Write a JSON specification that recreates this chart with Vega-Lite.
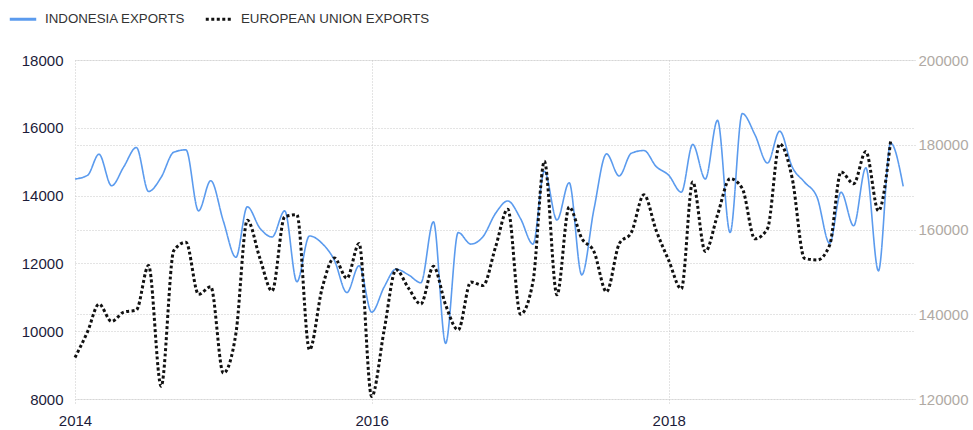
{
  "$schema": "https://vega.github.io/schema/vega-lite/v6.json",
  "autosize": "none",
  "width": 840,
  "height": 339,
  "padding": {"left": 75, "top": 60, "right": 58, "bottom": 31},
  "background": "white",
  "config": {
    "view": {"stroke": null},
    "font": "Liberation Sans",
    "axis": {"domain": false, "gridColor": "#c8c8c8", "gridDash": [1, 2], "gridWidth": 1, "labelFont": "Liberation Sans"}
  },
  "data": {
    "values": [
      {"date": "2014-01-01", "series": "INDONESIA EXPORTS", "value": 14490},
      {"date": "2014-02-01", "series": "INDONESIA EXPORTS", "value": 14600},
      {"date": "2014-03-01", "series": "INDONESIA EXPORTS", "value": 15220},
      {"date": "2014-04-01", "series": "INDONESIA EXPORTS", "value": 14290},
      {"date": "2014-05-01", "series": "INDONESIA EXPORTS", "value": 14850},
      {"date": "2014-06-01", "series": "INDONESIA EXPORTS", "value": 15420},
      {"date": "2014-07-01", "series": "INDONESIA EXPORTS", "value": 14120},
      {"date": "2014-08-01", "series": "INDONESIA EXPORTS", "value": 14540},
      {"date": "2014-09-01", "series": "INDONESIA EXPORTS", "value": 15280},
      {"date": "2014-10-01", "series": "INDONESIA EXPORTS", "value": 15350},
      {"date": "2014-11-01", "series": "INDONESIA EXPORTS", "value": 13550},
      {"date": "2014-12-01", "series": "INDONESIA EXPORTS", "value": 14440},
      {"date": "2015-01-01", "series": "INDONESIA EXPORTS", "value": 13250},
      {"date": "2015-02-01", "series": "INDONESIA EXPORTS", "value": 12180},
      {"date": "2015-03-01", "series": "INDONESIA EXPORTS", "value": 13670},
      {"date": "2015-04-01", "series": "INDONESIA EXPORTS", "value": 13040},
      {"date": "2015-05-01", "series": "INDONESIA EXPORTS", "value": 12780},
      {"date": "2015-06-01", "series": "INDONESIA EXPORTS", "value": 13550},
      {"date": "2015-07-01", "series": "INDONESIA EXPORTS", "value": 11460},
      {"date": "2015-08-01", "series": "INDONESIA EXPORTS", "value": 12810},
      {"date": "2015-09-01", "series": "INDONESIA EXPORTS", "value": 12590},
      {"date": "2015-10-01", "series": "INDONESIA EXPORTS", "value": 12100},
      {"date": "2015-11-01", "series": "INDONESIA EXPORTS", "value": 11140},
      {"date": "2015-12-01", "series": "INDONESIA EXPORTS", "value": 11930},
      {"date": "2016-01-01", "series": "INDONESIA EXPORTS", "value": 10560},
      {"date": "2016-02-01", "series": "INDONESIA EXPORTS", "value": 11310},
      {"date": "2016-03-01", "series": "INDONESIA EXPORTS", "value": 11830},
      {"date": "2016-04-01", "series": "INDONESIA EXPORTS", "value": 11660},
      {"date": "2016-05-01", "series": "INDONESIA EXPORTS", "value": 11430},
      {"date": "2016-06-01", "series": "INDONESIA EXPORTS", "value": 13230},
      {"date": "2016-07-01", "series": "INDONESIA EXPORTS", "value": 9640},
      {"date": "2016-08-01", "series": "INDONESIA EXPORTS", "value": 12910},
      {"date": "2016-09-01", "series": "INDONESIA EXPORTS", "value": 12570},
      {"date": "2016-10-01", "series": "INDONESIA EXPORTS", "value": 12790},
      {"date": "2016-11-01", "series": "INDONESIA EXPORTS", "value": 13480},
      {"date": "2016-12-01", "series": "INDONESIA EXPORTS", "value": 13840},
      {"date": "2017-01-01", "series": "INDONESIA EXPORTS", "value": 13330},
      {"date": "2017-02-01", "series": "INDONESIA EXPORTS", "value": 12570},
      {"date": "2017-03-01", "series": "INDONESIA EXPORTS", "value": 14720},
      {"date": "2017-04-01", "series": "INDONESIA EXPORTS", "value": 13280},
      {"date": "2017-05-01", "series": "INDONESIA EXPORTS", "value": 14380},
      {"date": "2017-06-01", "series": "INDONESIA EXPORTS", "value": 11660},
      {"date": "2017-07-01", "series": "INDONESIA EXPORTS", "value": 13600},
      {"date": "2017-08-01", "series": "INDONESIA EXPORTS", "value": 15230},
      {"date": "2017-09-01", "series": "INDONESIA EXPORTS", "value": 14580},
      {"date": "2017-10-01", "series": "INDONESIA EXPORTS", "value": 15250},
      {"date": "2017-11-01", "series": "INDONESIA EXPORTS", "value": 15330},
      {"date": "2017-12-01", "series": "INDONESIA EXPORTS", "value": 14860},
      {"date": "2018-01-01", "series": "INDONESIA EXPORTS", "value": 14600},
      {"date": "2018-02-01", "series": "INDONESIA EXPORTS", "value": 14100},
      {"date": "2018-03-01", "series": "INDONESIA EXPORTS", "value": 15510},
      {"date": "2018-04-01", "series": "INDONESIA EXPORTS", "value": 14490},
      {"date": "2018-05-01", "series": "INDONESIA EXPORTS", "value": 16220},
      {"date": "2018-06-01", "series": "INDONESIA EXPORTS", "value": 12910},
      {"date": "2018-07-01", "series": "INDONESIA EXPORTS", "value": 16420},
      {"date": "2018-08-01", "series": "INDONESIA EXPORTS", "value": 15800},
      {"date": "2018-09-01", "series": "INDONESIA EXPORTS", "value": 14960},
      {"date": "2018-10-01", "series": "INDONESIA EXPORTS", "value": 15900},
      {"date": "2018-11-01", "series": "INDONESIA EXPORTS", "value": 14840},
      {"date": "2018-12-01", "series": "INDONESIA EXPORTS", "value": 14400},
      {"date": "2019-01-01", "series": "INDONESIA EXPORTS", "value": 13950},
      {"date": "2019-02-01", "series": "INDONESIA EXPORTS", "value": 12590},
      {"date": "2019-03-01", "series": "INDONESIA EXPORTS", "value": 14100},
      {"date": "2019-04-01", "series": "INDONESIA EXPORTS", "value": 13110},
      {"date": "2019-05-01", "series": "INDONESIA EXPORTS", "value": 14820},
      {"date": "2019-06-01", "series": "INDONESIA EXPORTS", "value": 11780},
      {"date": "2019-07-01", "series": "INDONESIA EXPORTS", "value": 15550},
      {"date": "2019-08-01", "series": "INDONESIA EXPORTS", "value": 14270},
      {"date": "2014-01-01", "series": "EUROPEAN UNION EXPORTS", "value": 129800},
      {"date": "2014-02-01", "series": "EUROPEAN UNION EXPORTS", "value": 135900},
      {"date": "2014-03-01", "series": "EUROPEAN UNION EXPORTS", "value": 142400},
      {"date": "2014-04-01", "series": "EUROPEAN UNION EXPORTS", "value": 138300},
      {"date": "2014-05-01", "series": "EUROPEAN UNION EXPORTS", "value": 140500},
      {"date": "2014-06-01", "series": "EUROPEAN UNION EXPORTS", "value": 141000},
      {"date": "2014-07-01", "series": "EUROPEAN UNION EXPORTS", "value": 151500},
      {"date": "2014-08-01", "series": "EUROPEAN UNION EXPORTS", "value": 123000},
      {"date": "2014-09-01", "series": "EUROPEAN UNION EXPORTS", "value": 155000},
      {"date": "2014-10-01", "series": "EUROPEAN UNION EXPORTS", "value": 157000},
      {"date": "2014-11-01", "series": "EUROPEAN UNION EXPORTS", "value": 144700},
      {"date": "2014-12-01", "series": "EUROPEAN UNION EXPORTS", "value": 146500},
      {"date": "2015-01-01", "series": "EUROPEAN UNION EXPORTS", "value": 126100},
      {"date": "2015-02-01", "series": "EUROPEAN UNION EXPORTS", "value": 135500},
      {"date": "2015-03-01", "series": "EUROPEAN UNION EXPORTS", "value": 162200},
      {"date": "2015-04-01", "series": "EUROPEAN UNION EXPORTS", "value": 153200},
      {"date": "2015-05-01", "series": "EUROPEAN UNION EXPORTS", "value": 145500},
      {"date": "2015-06-01", "series": "EUROPEAN UNION EXPORTS", "value": 163000},
      {"date": "2015-07-01", "series": "EUROPEAN UNION EXPORTS", "value": 163500},
      {"date": "2015-08-01", "series": "EUROPEAN UNION EXPORTS", "value": 131600},
      {"date": "2015-09-01", "series": "EUROPEAN UNION EXPORTS", "value": 146100},
      {"date": "2015-10-01", "series": "EUROPEAN UNION EXPORTS", "value": 153300},
      {"date": "2015-11-01", "series": "EUROPEAN UNION EXPORTS", "value": 148500},
      {"date": "2015-12-01", "series": "EUROPEAN UNION EXPORTS", "value": 156700},
      {"date": "2016-01-01", "series": "EUROPEAN UNION EXPORTS", "value": 120600},
      {"date": "2016-02-01", "series": "EUROPEAN UNION EXPORTS", "value": 136400},
      {"date": "2016-03-01", "series": "EUROPEAN UNION EXPORTS", "value": 150500},
      {"date": "2016-04-01", "series": "EUROPEAN UNION EXPORTS", "value": 146100},
      {"date": "2016-05-01", "series": "EUROPEAN UNION EXPORTS", "value": 142400},
      {"date": "2016-06-01", "series": "EUROPEAN UNION EXPORTS", "value": 151300},
      {"date": "2016-07-01", "series": "EUROPEAN UNION EXPORTS", "value": 142200},
      {"date": "2016-08-01", "series": "EUROPEAN UNION EXPORTS", "value": 136300},
      {"date": "2016-09-01", "series": "EUROPEAN UNION EXPORTS", "value": 147600},
      {"date": "2016-10-01", "series": "EUROPEAN UNION EXPORTS", "value": 146800},
      {"date": "2016-11-01", "series": "EUROPEAN UNION EXPORTS", "value": 155900},
      {"date": "2016-12-01", "series": "EUROPEAN UNION EXPORTS", "value": 164800},
      {"date": "2017-01-01", "series": "EUROPEAN UNION EXPORTS", "value": 140000},
      {"date": "2017-02-01", "series": "EUROPEAN UNION EXPORTS", "value": 147700},
      {"date": "2017-03-01", "series": "EUROPEAN UNION EXPORTS", "value": 176100},
      {"date": "2017-04-01", "series": "EUROPEAN UNION EXPORTS", "value": 144600},
      {"date": "2017-05-01", "series": "EUROPEAN UNION EXPORTS", "value": 165300},
      {"date": "2017-06-01", "series": "EUROPEAN UNION EXPORTS", "value": 157900},
      {"date": "2017-07-01", "series": "EUROPEAN UNION EXPORTS", "value": 154800},
      {"date": "2017-08-01", "series": "EUROPEAN UNION EXPORTS", "value": 145300},
      {"date": "2017-09-01", "series": "EUROPEAN UNION EXPORTS", "value": 156600},
      {"date": "2017-10-01", "series": "EUROPEAN UNION EXPORTS", "value": 159300},
      {"date": "2017-11-01", "series": "EUROPEAN UNION EXPORTS", "value": 168200},
      {"date": "2017-12-01", "series": "EUROPEAN UNION EXPORTS", "value": 159800},
      {"date": "2018-01-01", "series": "EUROPEAN UNION EXPORTS", "value": 152700},
      {"date": "2018-02-01", "series": "EUROPEAN UNION EXPORTS", "value": 146000},
      {"date": "2018-03-01", "series": "EUROPEAN UNION EXPORTS", "value": 171200},
      {"date": "2018-04-01", "series": "EUROPEAN UNION EXPORTS", "value": 154800},
      {"date": "2018-05-01", "series": "EUROPEAN UNION EXPORTS", "value": 163400},
      {"date": "2018-06-01", "series": "EUROPEAN UNION EXPORTS", "value": 172000},
      {"date": "2018-07-01", "series": "EUROPEAN UNION EXPORTS", "value": 169700},
      {"date": "2018-08-01", "series": "EUROPEAN UNION EXPORTS", "value": 157800},
      {"date": "2018-09-01", "series": "EUROPEAN UNION EXPORTS", "value": 160200},
      {"date": "2018-10-01", "series": "EUROPEAN UNION EXPORTS", "value": 180200},
      {"date": "2018-11-01", "series": "EUROPEAN UNION EXPORTS", "value": 172000},
      {"date": "2018-12-01", "series": "EUROPEAN UNION EXPORTS", "value": 153200},
      {"date": "2019-01-01", "series": "EUROPEAN UNION EXPORTS", "value": 152800},
      {"date": "2019-02-01", "series": "EUROPEAN UNION EXPORTS", "value": 156300},
      {"date": "2019-03-01", "series": "EUROPEAN UNION EXPORTS", "value": 173600},
      {"date": "2019-04-01", "series": "EUROPEAN UNION EXPORTS", "value": 170800},
      {"date": "2019-05-01", "series": "EUROPEAN UNION EXPORTS", "value": 178400},
      {"date": "2019-06-01", "series": "EUROPEAN UNION EXPORTS", "value": 164400},
      {"date": "2019-07-01", "series": "EUROPEAN UNION EXPORTS", "value": 180900}
    ]
  },
  "encoding": {
    "x": {
      "field": "date",
      "type": "temporal",
      "title": null,
      "scale": {"type": "utc", "domain": [{"year": 2014, "month": 1, "date": 1, "utc": true}, {"year": 2019, "month": 8, "date": 30, "utc": true}]},
      "axis": {
        "values": [{"year": 2014, "month": 1, "date": 1, "utc": true}, {"year": 2016, "month": 1, "date": 1, "utc": true}, {"year": 2018, "month": 1, "date": 1, "utc": true}],
        "format": "%Y",
        "formatType": "utc",
        "labelFontSize": 15,
        "labelColor": "#1c1c3a",
        "labelPadding": 8,
        "labelFlush": false,
        "labelOverlap": false,
        "tickSize": 6,
        "tickColor": "#c8c8c8",
        "tickDash": [1, 2],
        "grid": true
      }
    },
    "color": {
      "field": "series",
      "type": "nominal",
      "scale": {"domain": ["INDONESIA EXPORTS", "EUROPEAN UNION EXPORTS"], "range": ["#5b9bee", "#111111"]},
      "legend": {
        "title": null,
        "orient": "none",
        "legendX": -67,
        "legendY": -56,
        "direction": "horizontal",
        "symbolType": "stroke",
        "symbolSize": 700,
        "symbolStrokeWidth": 3,
        "labelFontSize": 13.3,
        "labelColor": "#333333",
        "labelFont": "Liberation Sans",
        "labelLimit": 0,
        "columnPadding": 13,
        "labelOffset": 7
      }
    },
    "strokeDash": {
      "field": "series",
      "type": "nominal",
      "scale": {"domain": ["INDONESIA EXPORTS", "EUROPEAN UNION EXPORTS"], "range": [[1, 0], [3, 2.5]]},
      "legend": null
    }
  },
  "layer": [
    {
      "transform": [{"filter": "datum.series === 'INDONESIA EXPORTS'"}],
      "mark": {"type": "line", "interpolate": "monotone", "strokeWidth": 1.6},
      "encoding": {
        "y": {
          "field": "value",
          "type": "quantitative",
          "title": null,
          "scale": {"domain": [8000, 18000], "nice": false, "zero": false},
          "axis": {
            "orient": "left",
            "values": [8000, 10000, 12000, 14000, 16000, 18000],
            "format": "d",
            "labelFontSize": 15,
            "labelColor": "#1c1c3a",
            "tickSize": 0,
            "labelPadding": 12,
            "grid": true
          }
        }
      }
    },
    {
      "transform": [{"filter": "datum.series === 'EUROPEAN UNION EXPORTS'"}],
      "mark": {"type": "line", "interpolate": "monotone", "strokeWidth": 3},
      "encoding": {
        "y": {
          "field": "value",
          "type": "quantitative",
          "title": null,
          "scale": {"domain": [120000, 200000], "nice": false, "zero": false},
          "axis": {
            "orient": "right",
            "values": [120000, 140000, 160000, 180000, 200000],
            "format": "d",
            "labelFontSize": 15,
            "labelColor": "#b0aaa4",
            "tickSize": 0,
            "labelPadding": 3,
            "grid": true
          }
        }
      }
    }
  ],
  "resolve": {"scale": {"y": "independent"}}
}
